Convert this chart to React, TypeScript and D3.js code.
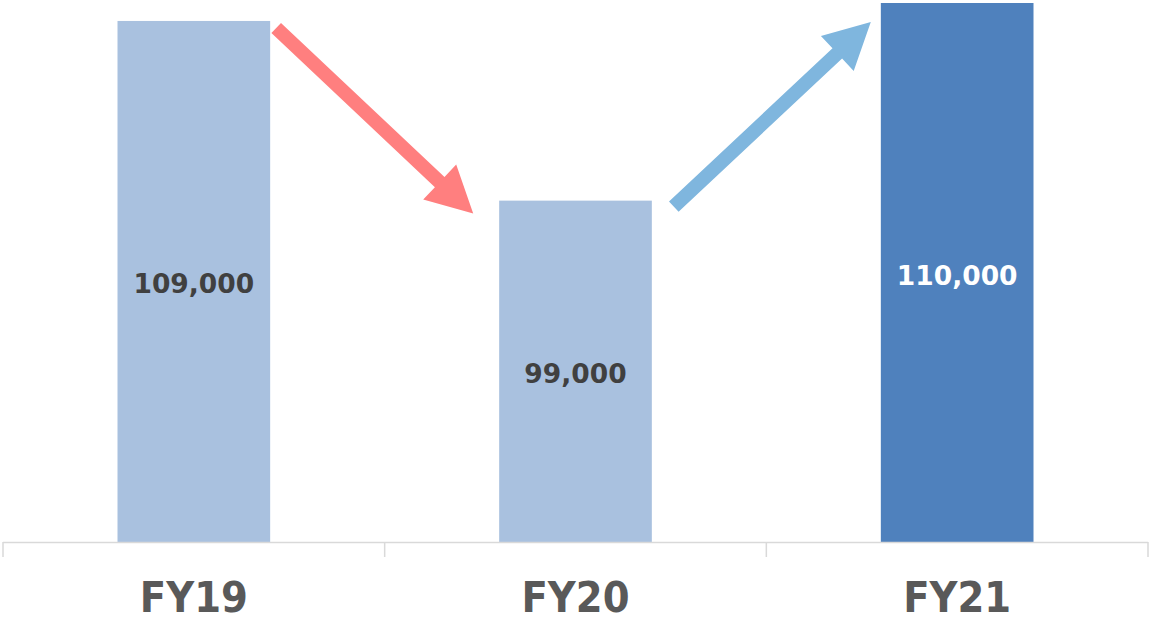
import React from "react";
import * as d3 from "d3";

const categories = ["FY19", "FY20", "FY21"];
const values = [109000, 99000, 110000];
const barColors = ["#A9C1DF", "#A9C1DF", "#4F81BD"];
const labelColors = ["#404040", "#404040", "#FFFFFF"];
const yDomain = [80000, 110000];

const W = 1151;
const H = 621;

function arrowPath(sx: number, sy: number, tx: number, ty: number, shaftW: number, headW: number, headL: number) {
  const dx = tx - sx, dy = ty - sy;
  const len = Math.hypot(dx, dy);
  const ux = dx / len, uy = dy / len;
  const px = -uy, py = ux;
  const bx = tx - ux * headL, by = ty - uy * headL;
  const pts = [
    [sx + px * shaftW / 2, sy + py * shaftW / 2],
    [bx + px * shaftW / 2, by + py * shaftW / 2],
    [bx + px * headW / 2, by + py * headW / 2],
    [tx, ty],
    [bx - px * headW / 2, by - py * headW / 2],
    [bx - px * shaftW / 2, by - py * shaftW / 2],
    [sx - px * shaftW / 2, sy - py * shaftW / 2],
  ];
  return "M" + pts.map(p => p[0].toFixed(1) + "," + p[1].toFixed(1)).join("L") + "Z";
}

export default function App() {
  const x = d3.scaleBand<string>().domain(categories).range([3, 1148]).paddingInner(0.6).paddingOuter(0.3);
  const y = d3.scaleLinear().domain(yDomain).range([542, 3]);
  const bw = x.bandwidth();
  const step = x.step();
  const fmt = d3.format(",");
  const tickXs = [0, 1, 2, 3].map(i => 3 + i * step);

  const x0 = x(categories[0])!, x1 = x(categories[1])!, x2 = x(categories[2])!;
  const red = arrowPath(x0 + bw + 6, y(values[0]) + 7, x1 - 26, y(values[1]) + 13, 14, 48, 46);
  const blue = arrowPath(x1 + bw + 22, y(values[1]) + 6, x2 - 10, y(values[2]) + 19, 14, 48, 46);

  return (
    <svg width={W} height={H} style={{ position: "absolute", left: 0, top: 0, background: "#fff" }}
      fontFamily="'DejaVu Sans', Verdana, sans-serif">
      {categories.map((c, i) => (
        <rect key={c} x={x(c)} y={y(values[i])} width={bw} height={y(yDomain[0]) - y(values[i])} fill={barColors[i]} />
      ))}
      <line x1={3} x2={1148} y1={542.5} y2={542.5} stroke="#D9D9D9" strokeWidth={1.5} />
      {tickXs.map((tx, i) => (
        <line key={i} x1={tx} x2={tx} y1={542} y2={557} stroke="#D9D9D9" strokeWidth={1.5} />
      ))}
      {categories.map((c, i) => (
        <text key={c} x={x(c)! + bw / 2} y={(y(values[i]) + 542) / 2 + 12} textAnchor="middle"
          fontSize={26.5} fontWeight="bold" fill={labelColors[i]}>{fmt(values[i])}</text>
      ))}
      {categories.map((c) => (
        <text key={c} x={x(c)! + bw / 2} y={612} textAnchor="middle" fontSize={43} fontWeight="bold" fill="#595959"
          textLength={108} lengthAdjust="spacingAndGlyphs">{c}</text>
      ))}
      <path d={red} fill="#FF7F7F" />
      <path d={blue} fill="#7FB6DE" />
    </svg>
  );
}
